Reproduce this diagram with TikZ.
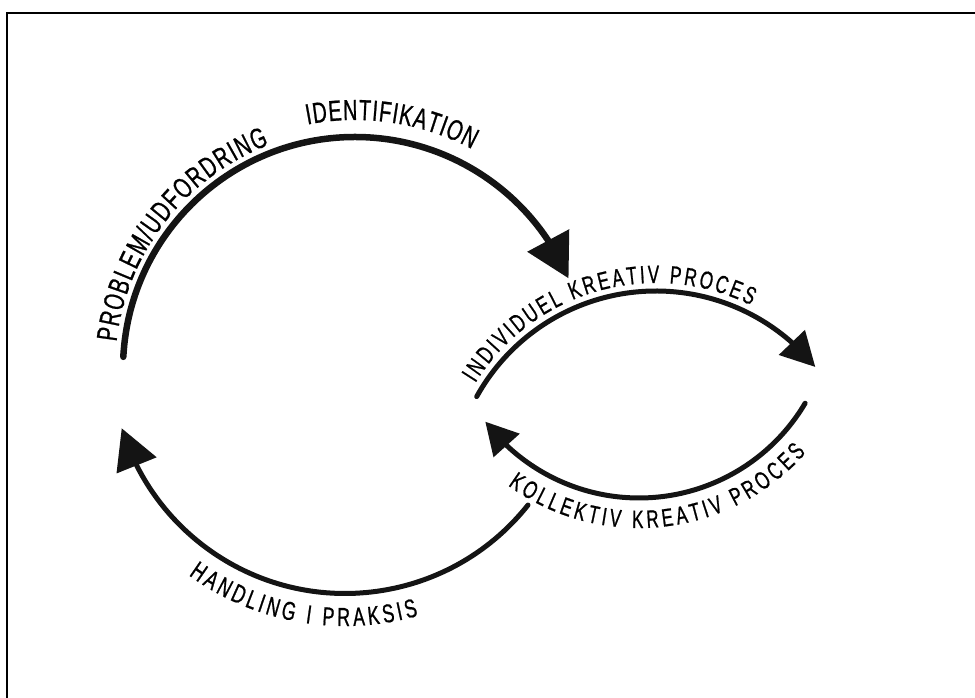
\documentclass[tikz,border=0pt]{standalone}
\usepackage{fontspec}
\newfontfamily\hand[FakeStretch=0.68,FakeBold=0.8]{Liberation Sans}
\usetikzlibrary{arrows.meta,bending,decorations.text,calc}
\begin{document}
\begin{tikzpicture}[x=1pt,y=1pt,
  arcline/.style={line width=5pt, line cap=round, draw=black!92},
  lbl/.style={decorate, decoration={text along path, text align={fit to path}}}]
\useasboundingbox (0,0) rectangle (975,698);
% frame remnants
\coordinate (fb) at (7,0);
\coordinate (fc) at (7,685);
\coordinate (fr) at (975,685);
\draw[line width=1.2pt] (fb) -- (fc) -- (fr);
% arc centres
\coordinate (c1) at (355,329);
\coordinate (c2) at (656,202);
\coordinate (c3) at (639,393);
\coordinate (c4) at (345,338);
% arcs
\draw[arcline, line width=6.5pt, -{Triangle[length=43pt,width=46pt]}]
  ($(c1)+(177:232)$) arc[start angle=177, end angle=23, radius=232];
\draw[arcline, -{Triangle[length=34pt,width=35pt]}]
  ($(c2)+(151:205)$) arc[start angle=151, end angle=39, radius=205];
\draw[arcline, -{Triangle[length=32pt,width=34pt]}]
  ($(c3)+(-30.6:193)$) arc[start angle=-30.6, end angle=-142.8, radius=193];
\draw[arcline, -{Triangle[length=40pt,width=42pt]}]
  ($(c4)+(-38.4:233.5)$) arc[start angle=-38.4, end angle=-163, radius=233.5];
% labels
\path[lbl, decoration={text={|\hand\fontsize{29}{29}\selectfont|PROBLEM/UDFORDRING}}]
  ($(c1)+(173.5:240)$) arc[start angle=173.5, end angle=111, radius=240];
\path[lbl, decoration={text={|\hand\fontsize{29}{29}\selectfont|IDENTIFIKATION}}]
  ($(c1)+(101:249)$) arc[start angle=101, end angle=62, radius=249];
\path[lbl, decoration={text={|\hand\fontsize{25}{25}\selectfont|INDIVIDUEL KREATIV PROCES}}]
  ($(c2)+(148:213)$) arc[start angle=148, end angle=63.5, radius=213];
\path[lbl, decoration={text={|\hand\fontsize{25}{25}\selectfont|KOLLEKTIV KREATIV PROCES}}]
  ($(c3)+(-126:223)$) arc[start angle=-126, end angle=-41.5, radius=223];
\path[lbl, decoration={text={|\hand\fontsize{26}{26}\selectfont|HANDLING I PRAKSIS}}]
  ($(c4)+(-126:266)$) arc[start angle=-126, end angle=-74, radius=266];
\end{tikzpicture}
\end{document}
